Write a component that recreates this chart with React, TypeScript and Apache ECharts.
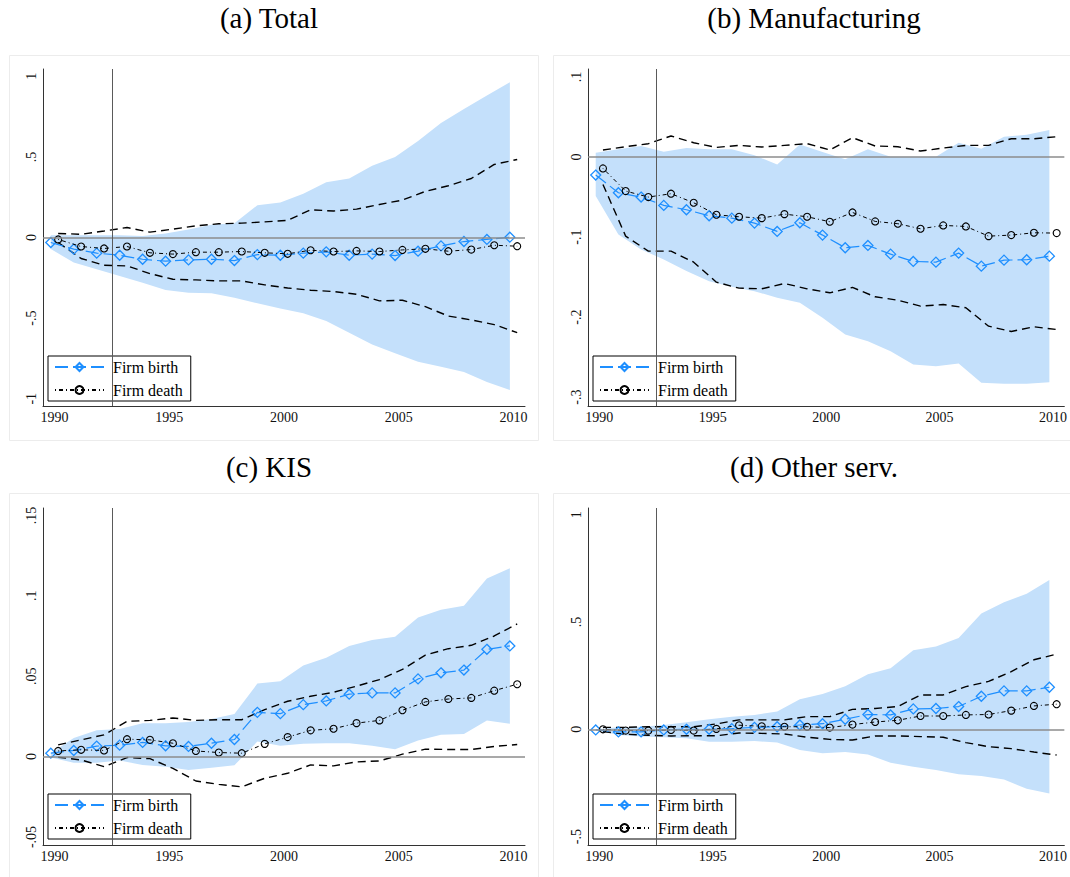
import React, { useEffect, useRef } from 'react';
import * as echarts from 'echarts';

const years = [1990, 1991, 1992, 1993, 1994, 1995, 1996, 1997, 1998, 1999, 2000, 2001, 2002, 2003, 2004, 2005, 2006, 2007, 2008, 2009, 2010];
const xTicks = [1990, 1995, 2000, 2005, 2010];

// (a) Total
const birthA = [-0.031, -0.072, -0.097, -0.110, -0.135, -0.147, -0.139, -0.135, -0.143, -0.106, -0.110, -0.097, -0.089, -0.110, -0.103, -0.112, -0.085, -0.052, -0.025, -0.012, 0.002];
const deathA = [-0.012, -0.056, -0.068, -0.056, -0.095, -0.103, -0.091, -0.091, -0.087, -0.095, -0.101, -0.079, -0.087, -0.083, -0.087, -0.077, -0.070, -0.085, -0.075, -0.048, -0.054];
const deathHiA = [0.025, 0.020, 0.040, 0.062, 0.033, 0.052, 0.072, 0.085, 0.089, 0.097, 0.106, 0.172, 0.164, 0.176, 0.205, 0.232, 0.286, 0.321, 0.366, 0.453, 0.484];
const deathLoA = [-0.031, -0.130, -0.172, -0.176, -0.224, -0.259, -0.263, -0.269, -0.269, -0.294, -0.313, -0.327, -0.335, -0.352, -0.393, -0.389, -0.429, -0.487, -0.511, -0.540, -0.590];
const birthHiA = [0.014, 0.014, 0.014, 0.014, 0.010, 0.025, 0.050, 0.079, 0.089, 0.200, 0.217, 0.271, 0.342, 0.366, 0.445, 0.499, 0.598, 0.710, 0.797, 0.880, 0.963];
const birthLoA = [-0.072, -0.155, -0.197, -0.238, -0.280, -0.325, -0.342, -0.346, -0.373, -0.408, -0.441, -0.470, -0.518, -0.590, -0.663, -0.718, -0.770, -0.801, -0.834, -0.896, -0.946];
const yTicksA = [-1, -0.5, 0, 0.5, 1];

// (b) Manufacturing
const birthB = [-0.0225, -0.0446, -0.0500, -0.0604, -0.0658, -0.0733, -0.0763, -0.0825, -0.0929, -0.0821, -0.0975, -0.1133, -0.1104, -0.1213, -0.1304, -0.1313, -0.1200, -0.1363, -0.1288, -0.1283, -0.1238];
const deathB = [-0.0142, -0.0425, -0.0500, -0.0458, -0.0571, -0.0721, -0.0746, -0.0763, -0.0713, -0.0746, -0.0808, -0.0692, -0.0804, -0.0833, -0.0896, -0.0854, -0.0867, -0.0988, -0.0975, -0.0946, -0.0950];
const deathHiB = [0.0088, 0.0129, 0.0167, 0.0263, 0.0179, 0.0121, 0.0146, 0.0125, 0.0146, 0.0167, 0.0088, 0.0242, 0.0138, 0.0129, 0.0075, 0.0113, 0.0146, 0.0146, 0.0229, 0.0229, 0.0254];
const deathLoB = [-0.0342, -0.0988, -0.1175, -0.1175, -0.1313, -0.1563, -0.1638, -0.1646, -0.1579, -0.1646, -0.1696, -0.1629, -0.1746, -0.1788, -0.1863, -0.1842, -0.1883, -0.2113, -0.2179, -0.2121, -0.2154];
const birthHiB = [0.0054, 0.0096, 0.0138, 0.0067, 0.0113, 0.0096, 0.0096, 0.0021, -0.0092, 0.0158, 0.0063, -0.0029, 0.0096, 0.0004, 0.0004, 0.0004, 0.0179, 0.0104, 0.0254, 0.0279, 0.0338];
const birthLoB = [-0.0488, -0.0967, -0.1154, -0.1279, -0.1425, -0.1550, -0.1621, -0.1675, -0.1758, -0.1821, -0.2008, -0.2217, -0.2300, -0.2425, -0.2592, -0.2613, -0.2579, -0.2821, -0.2833, -0.2833, -0.2813];
const yTicksB = [-0.3, -0.2, -0.1, 0, 0.1];

// (c) KIS
const birthC = [0.0021, 0.0038, 0.0065, 0.0071, 0.0088, 0.0067, 0.0063, 0.0083, 0.0106, 0.0275, 0.0267, 0.0323, 0.0346, 0.0388, 0.0396, 0.0396, 0.0483, 0.0521, 0.0538, 0.0667, 0.0688];
const deathC = [0.0035, 0.0042, 0.0038, 0.0108, 0.0104, 0.0083, 0.0035, 0.0025, 0.0021, 0.0079, 0.0121, 0.0163, 0.0173, 0.0208, 0.0225, 0.0288, 0.0340, 0.0358, 0.0365, 0.0410, 0.0450];
const deathHiC = [0.0073, 0.0104, 0.0135, 0.0219, 0.0225, 0.0240, 0.0225, 0.0229, 0.0229, 0.0292, 0.0344, 0.0375, 0.0400, 0.0438, 0.0479, 0.0542, 0.0631, 0.0671, 0.0692, 0.0750, 0.0825];
const deathLoC = [-0.0004, -0.0021, -0.0063, -0.0006, -0.0013, -0.0073, -0.0152, -0.0173, -0.0188, -0.0135, -0.0104, -0.0052, -0.0058, -0.0033, -0.0027, 0.0015, 0.0046, 0.0044, 0.0044, 0.0063, 0.0075];
const birthHiC = [0.0020, 0.0115, 0.0163, 0.0171, 0.0208, 0.0208, 0.0215, 0.0233, 0.0265, 0.0454, 0.0469, 0.0567, 0.0615, 0.0688, 0.0725, 0.0746, 0.0865, 0.0913, 0.0938, 0.1108, 0.1171];
const birthLoC = [-0.0006, -0.0038, -0.0038, -0.0025, -0.0052, -0.0063, -0.0083, -0.0069, -0.0054, 0.0094, 0.0067, 0.0079, 0.0083, 0.0083, 0.0067, 0.0046, 0.0100, 0.0135, 0.0140, 0.0225, 0.0204];
const yTicksC = [-0.05, 0, 0.05, 0.1, 0.15];

// (d) Other serv.
const birthD = [-0.003, -0.012, -0.012, -0.003, 0.000, 0.000, 0.003, 0.009, 0.012, 0.020, 0.026, 0.047, 0.069, 0.067, 0.095, 0.097, 0.106, 0.154, 0.179, 0.179, 0.196];
const deathD = [0.000, -0.006, -0.006, -0.003, -0.006, 0.002, 0.019, 0.014, 0.012, 0.012, 0.008, 0.022, 0.034, 0.042, 0.062, 0.062, 0.067, 0.069, 0.087, 0.109, 0.117];
const deathHiD = [0.009, 0.009, 0.012, 0.012, 0.012, 0.025, 0.044, 0.044, 0.044, 0.059, 0.059, 0.093, 0.097, 0.106, 0.160, 0.160, 0.199, 0.223, 0.269, 0.324, 0.350];
const deathLoD = [-0.011, -0.023, -0.028, -0.031, -0.030, -0.030, -0.017, -0.019, -0.022, -0.037, -0.047, -0.050, -0.031, -0.031, -0.034, -0.037, -0.062, -0.081, -0.090, -0.106, -0.120];
const birthHiD = [0.000, 0.009, 0.012, 0.020, 0.033, 0.047, 0.058, 0.067, 0.083, 0.140, 0.164, 0.200, 0.257, 0.285, 0.368, 0.386, 0.425, 0.539, 0.592, 0.632, 0.695];
const birthLoD = [-0.003, -0.026, -0.034, -0.037, -0.042, -0.058, -0.058, -0.055, -0.062, -0.097, -0.112, -0.106, -0.117, -0.156, -0.174, -0.190, -0.209, -0.218, -0.234, -0.277, -0.299];
const yTicksD = [-0.5, 0, 0.5, 1];

const titles = ['(a) Total', '(b) Manufacturing', '(c) KIS', '(d) Other serv.'];
const reformYear = 1992.5;

const BLUE = '#1e8fff';
const BAND = '#c4e0fb';
const SERIF = '"Liberation Serif", "Times New Roman", serif';
const BIRTH_SHIFT = -0.16;
const DEATH_SHIFT = 0.16;

const panels = [
  { birth: birthA, death: deathA, deathHi: deathHiA, deathLo: deathLoA, birthHi: birthHiA, birthLo: birthLoA, yMin: -1.045, yMax: 1.045, yTicks: yTicksA,
    grid: { left: 43, top: 69, width: 482, height: 337 }, legend: { left: 48, top: 356 }, title: [269, 18], frame: [9.5, 55.5, 529, 385] },
  { birth: birthB, death: deathB, deathHi: deathHiB, deathLo: deathLoB, birthHi: birthHiB, birthLo: birthLoB, yMin: -0.311, yMax: 0.11, yTicks: yTicksB,
    grid: { left: 588, top: 69, width: 480, height: 337 }, legend: { left: 593, top: 356 }, title: [814, 18], frame: [553.5, 55.5, 530, 385] },
  { birth: birthC, death: deathC, deathHi: deathHiC, deathLo: deathLoC, birthHi: birthHiC, birthLo: birthLoC, yMin: -0.055, yMax: 0.1546, yTicks: yTicksC,
    grid: { left: 43, top: 508, width: 482, height: 337 }, legend: { left: 48, top: 794 }, title: [269, 467], frame: [9.5, 493.5, 529, 400] },
  { birth: birthD, death: deathD, deathHi: deathHiD, deathLo: deathLoD, birthHi: birthHiD, birthLo: birthLoD, yMin: -0.539, yMax: 1.031, yTicks: yTicksD,
    grid: { left: 588, top: 508, width: 480, height: 337 }, legend: { left: 593, top: 794 }, title: [814, 467], frame: [553.5, 493.5, 530, 400] },
];

function fmt(v: number): string {
  const r = Math.round(v * 1000) / 1000;
  let s = String(r);
  s = s.replace(/^(-?)0\./, '$1.');
  return s;
}

function buildOption() {
  const grid: any[] = [];
  const xAxis: any[] = [];
  const yAxis: any[] = [];
  const series: any[] = [];
  const legend: any[] = [];
  const graphic: any[] = [];

  panels.forEach((p, i) => {
    grid.push({ ...p.grid, containLabel: false });
    xAxis.push({
      type: 'value', gridIndex: i, min: 1989.5, max: 2010.5,
      axisLine: { show: true, onZero: false, lineStyle: { color: '#333', width: 1 } },
      axisTick: { show: false }, splitLine: { show: false },
      axisLabel: { customValues: xTicks, formatter: (v: number) => String(v), fontFamily: SERIF, fontSize: 14, color: '#111', margin: 4 },
    });
    yAxis.push({
      type: 'value', gridIndex: i, min: p.yMin, max: p.yMax,
      axisLine: { show: true, onZero: false, lineStyle: { color: '#333', width: 1 } },
      axisTick: { show: false }, splitLine: { show: false },
      axisLabel: { customValues: p.yTicks, rotate: 90, formatter: (v: number) => fmt(v), fontFamily: SERIF, fontSize: 14, color: '#111', margin: 5 },
    });

    series.push({
      type: 'custom', xAxisIndex: i, yAxisIndex: i, z: 1, silent: true,
      data: [[years[0], p.birth[0]]],
      renderItem: (params: any, api: any) => {
        const up = years.map((y, k) => api.coord([y + BIRTH_SHIFT, p.birthHi[k]]));
        const lo = years.map((y, k) => api.coord([y + BIRTH_SHIFT, p.birthLo[k]])).reverse();
        return { type: 'polygon', shape: { points: up.concat(lo) }, style: { fill: BAND } };
      },
    });

    series.push({
      type: 'line', xAxisIndex: i, yAxisIndex: i, z: 2, silent: true, symbol: 'none',
      data: years.map((y, k) => [y + DEATH_SHIFT, p.deathHi[k]]),
      lineStyle: { color: '#000', width: 1.4, type: [8, 5] },
      markLine: {
        silent: true, symbol: ['none', 'none'], label: { show: false },
        data: [
          { yAxis: 0, lineStyle: { color: '#8c8c8c', width: 1.6, type: 'solid' } },
          { xAxis: reformYear, lineStyle: { color: '#5a5a5a', width: 1, type: 'solid' } },
        ],
      },
    });
    series.push({
      type: 'line', xAxisIndex: i, yAxisIndex: i, z: 2, silent: true, symbol: 'none',
      data: years.map((y, k) => [y + DEATH_SHIFT, p.deathLo[k]]),
      lineStyle: { color: '#000', width: 1.4, type: [8, 5] },
    });
    series.push({
      name: 'Firm birth', type: 'line', xAxisIndex: i, yAxisIndex: i, z: 3,
      data: years.map((y, k) => [y + BIRTH_SHIFT, p.birth[k]]),
      symbol: 'diamond', symbolSize: 10,
      itemStyle: { color: 'rgba(0,0,0,0)', borderColor: BLUE, borderWidth: 1.3 },
      lineStyle: { color: BLUE, width: 1.2, type: [13, 5] },
    });
    series.push({
      name: 'Firm death', type: 'line', xAxisIndex: i, yAxisIndex: i, z: 4,
      data: years.map((y, k) => [y + DEATH_SHIFT, p.death[k]]),
      symbol: 'circle', symbolSize: 7,
      itemStyle: { color: 'rgba(0,0,0,0)', borderColor: '#000', borderWidth: 1.1 },
      lineStyle: { color: '#000', width: 1, type: [1, 3, 4, 3] },
    });

    legend.push({
      data: ['Firm birth', 'Firm death'], orient: 'vertical', left: p.legend.left, top: p.legend.top,
      backgroundColor: '#fff', borderColor: '#000', borderWidth: 1, borderRadius: 0,
      padding: [3, 8, 3, 6], itemGap: 7, itemWidth: 49, itemHeight: 10, selectedMode: false,
      textStyle: { fontFamily: SERIF, fontSize: 16, color: '#000', padding: [0, 0, 0, 4] },
    });

    graphic.push({
      type: 'rect', silent: true, z: -10,
      shape: { x: p.frame[0], y: p.frame[1], width: p.frame[2], height: p.frame[3] },
      style: { fill: 'none', stroke: '#ececec', lineWidth: 1 },
    });
    graphic.push({
      type: 'text', silent: true, x: p.title[0], y: p.title[1],
      style: { text: titles[i], align: 'center', verticalAlign: 'middle', fontFamily: SERIF, fontSize: 29, fill: '#000' },
    });
  });

  return { animation: false, backgroundColor: '#fff', grid, xAxis, yAxis, series, legend, graphic };
}

export default function App() {
  const ref = useRef<HTMLDivElement>(null);
  useEffect(() => {
    if (!ref.current) return;
    const chart = echarts.init(ref.current, undefined, { renderer: 'svg' });
    chart.setOption(buildOption() as any);
    return () => chart.dispose();
  }, []);
  return <div ref={ref} style={{ position: 'absolute', left: 0, top: 0, width: 1070, height: 877 }} />;
}
